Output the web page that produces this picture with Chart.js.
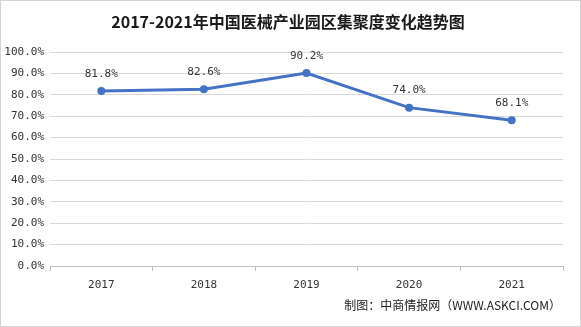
<!DOCTYPE html>
<html>
<head>
<meta charset="utf-8">
<script src="https://cdn.jsdelivr.net/npm/chart.js@4/dist/chart.umd.min.js"></script>
<style>
  html, body { margin: 0; padding: 0; background: #fff; }
  #wrap { width: 581px; height: 327px; position: relative; }
</style>
</head>
<body>
<div id="wrap"><canvas id="chart" width="581" height="327"></canvas></div>
<script>
const titleText = '2017-2021年中国医械产业园区集聚度变化趋势图';
const sourceText = '制图：中商情报网（WWW.ASKCI.COM）';
const years = ['2017', '2018', '2019', '2020', '2021'];
const concentration = [81.8, 82.6, 90.2, 74.0, 68.1];

const monoFont = '"DejaVu Sans Mono", "Liberation Mono", monospace';
const cjkFont = '"Noto Sans CJK SC", "Noto Sans", sans-serif';

// title, source line, point labels and outer frame
const decorations = {
  id: 'decorations',
  afterDraw(chart) {
    const ctx = chart.ctx;
    ctx.save();
    ctx.strokeStyle = '#d4d4d4';
    ctx.lineWidth = 1;
    ctx.strokeRect(0.5, 0.5, chart.width - 1, chart.height - 1);

    ctx.fillStyle = '#1a1a1a';
    ctx.font = 'bold 16px ' + cjkFont;
    ctx.textAlign = 'center';
    ctx.textBaseline = 'middle';
    ctx.fillText(titleText, 288, 22);

    ctx.font = '12px ' + cjkFont;
    ctx.textAlign = 'right';
    ctx.fillStyle = '#222';
    ctx.fillText(sourceText, 561, 305);

    const meta = chart.getDatasetMeta(0);
    ctx.font = '11px ' + monoFont;
    ctx.textAlign = 'center';
    ctx.fillStyle = '#333';
    meta.data.forEach((pt, i) => {
      ctx.fillText(concentration[i].toFixed(1) + '%', pt.x, pt.y - 17);
    });
    ctx.restore();
  }
};

new Chart(document.getElementById('chart'), {
  type: 'line',
  data: {
    labels: years,
    datasets: [{
      data: concentration,
      borderColor: '#4472C4',
      backgroundColor: '#4472C4',
      borderWidth: 3,
      pointRadius: 4,
      pointBackgroundColor: '#4472C4',
      pointBorderWidth: 0,
      tension: 0
    }]
  },
  options: {
    responsive: false,
    animation: false,
    layout: { padding: { top: 52, right: 18, bottom: 29, left: 0 } },
    plugins: {
      legend: { display: false },
      title: { display: false },
      tooltip: { enabled: false }
    },
    scales: {
      x: {
        offset: true,
        grid: { offset: true, drawOnChartArea: false, tickLength: 5, color: '#bfbfbf' },
        border: { color: '#bfbfbf' },
        ticks: { color: '#333', font: { family: monoFont, size: 11 }, padding: 8 },
        afterFit: s => { s.height = 32; }
      },
      y: {
        min: 0,
        max: 100,
        ticks: {
          stepSize: 10,
          color: '#333',
          font: { family: monoFont, size: 11 },
          padding: 6,
          callback: v => v.toFixed(1) + '%'
        },
        grid: { color: '#d9d9d9', drawTicks: false },
        border: { display: false },
        afterFit: s => { s.width = 50; }
      }
    }
  },
  plugins: [decorations]
});
</script>
</body>
</html>
